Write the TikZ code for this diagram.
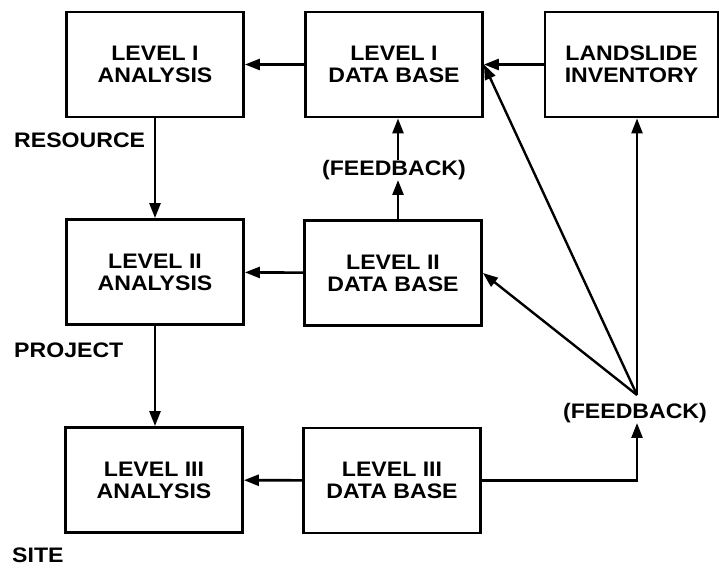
\documentclass[tikz,border=0pt]{standalone}
\usepackage{fontspec}
\setmainfont{Liberation Sans}[FakeStretch=1.1]
\usetikzlibrary{arrows.meta}
\begin{document}
\begin{tikzpicture}[x=1pt,y=-1pt,
  box/.style={draw, line width=2.8pt, minimum width=177pt, minimum height=105pt,
    align=center, inner sep=0pt, font=\fontsize{21}{22}\selectfont\bfseries},
  lbl/.style={inner sep=0pt, font=\fontsize{21}{22}\selectfont\bfseries},
  flow/.style={line width=2.6pt, -{Triangle[length=15pt,width=11pt]}},
  fan/.style={line width=2.4pt, -{Triangle[length=15pt,width=11pt]}}]
  \useasboundingbox (0,0) rectangle (719,568);

  % boxes
  \node[box] (a1) at (155,64.5) {LEVEL I\\ANALYSIS};
  \node[box] (d1) at (394,64.5) {LEVEL I\\DATA BASE};
  \node[box, minimum width=173pt] (inv) at (631.5,64.5) {LANDSLIDE\\INVENTORY};
  \node[box] (a2) at (155,272) {LEVEL II\\ANALYSIS};
  \node[box] (d2) at (393,273) {LEVEL II\\DATA BASE};
  \node[box] (a3) at (154,480) {LEVEL III\\ANALYSIS};
  \node[box] (d3) at (392,480.5) {LEVEL III\\DATA BASE};

  % side labels
  \node[lbl, anchor=west] (res) at (14,140) {RESOURCE};
  \node[lbl, anchor=west] (proj) at (14,350) {PROJECT};
  \node[lbl, anchor=west] (site) at (12,555) {SITE};
  \node[lbl] (fb1) at (394,170) {(FEEDBACK)};
  \node[lbl] (fb2) at (635,413) {(FEEDBACK)};
  \coordinate (hub) at (637,395);

  % data flow
  \draw[flow] (d1) -- (a1);
  \draw[flow] (inv) -- (d1);
  \draw[flow] (d2) -- (a2);
  \draw[flow] (d3) -- (a3);
  \draw[flow] (a1.south) -- (a1.south |- a2.north);
  \draw[flow] (a2.south) -- (a2.south |- a3.north);

  % feedback paths
  \draw[flow] (d2.north -| 398,0) -- (fb1.south -| 398,0);
  \draw[flow] (fb1.north -| 398,0) -- (d1.south -| 398,0);
  \draw[flow] (d3.east) -| (fb2.south -| hub);
  \draw[fan] (hub) -- (d1.east);
  \draw[fan] (hub) -- (d2.east);
  \draw[fan] (hub) -- (hub |- inv.south);
\end{tikzpicture}
\end{document}
